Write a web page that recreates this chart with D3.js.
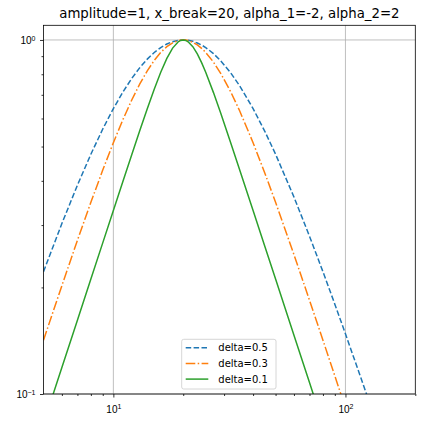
<!DOCTYPE html>
<html>
<head>
<meta charset="utf-8">
<script src="https://cdn.jsdelivr.net/npm/d3@7"></script>
<style>
  body { margin: 0; background: #fff; }
  svg { font-family: "DejaVu Sans", sans-serif; }
</style>
</head>
<body>
<svg id="chart" width="426" height="424"></svg>
<script>
// values
var xValues = [5, 6, 7, 8, 9, 10, 11, 12, 13, 14, 15, 16, 17, 18, 19, 19.5, 20, 20.5, 21, 22, 23, 24, 25, 27, 29, 32, 35, 40, 45, 50, 60, 70, 80, 90, 100, 120, 140];
var delta05 = [0.2215, 0.3030, 0.3889, 0.4756, 0.5602, 0.64, 0.7132, 0.7785, 0.8352, 0.8828, 0.9216, 0.9518, 0.9740, 0.9890, 0.9974, 0.9993, 1.0, 0.9994, 0.9976, 0.9910, 0.9807, 0.9675, 0.9518, 0.9151, 0.8737, 0.8080, 0.7422, 0.64, 0.5510, 0.4756, 0.36, 0.2791, 0.2215, 0.1794, 0.1479, 0.1052, 0.0784];
var delta03 = [0.1419, 0.2023, 0.2716, 0.3478, 0.4290, 0.5126, 0.5962, 0.6768, 0.7514, 0.8182, 0.8753, 0.9220, 0.9575, 0.9817, 0.9957, 0.9989, 1.0, 0.9990, 0.9960, 0.9851, 0.9683, 0.9469, 0.9221, 0.8660, 0.8050, 0.7148, 0.6310, 0.5126, 0.4197, 0.3478, 0.2475, 0.1841, 0.1419, 0.1125, 0.0914, 0.0636, 0.0470];
var delta01 = [0.0825, 0.1188, 0.1616, 0.2112, 0.2672, 0.3298, 0.3988, 0.4739, 0.5546, 0.6394, 0.7262, 0.8107, 0.8871, 0.9483, 0.9870, 0.9968, 1.0, 0.9970, 0.9883, 0.9571, 0.9134, 0.8631, 0.8107, 0.7100, 0.6215, 0.5135, 0.4302, 0.3298, 0.2606, 0.2112, 0.1466, 0.1077, 0.0825, 0.0652, 0.0528, 0.0367, 0.0269];
var seriesNames = ["delta=0.5", "delta=0.3", "delta=0.1"];
var seriesColors = ["#1f77b4", "#ff7f0e", "#2ca02c"];
var seriesDash = ["5.5,2.4", "9.6,2.4,1.5,2.4", null];
var xMajor = [10, 100];
var xMinor = [6, 7, 8, 9, 20, 30, 40, 50, 60, 70, 80, 90, 200];
var yMajor = [0.1, 1];
var yMinor = [0.2, 0.3, 0.4, 0.5, 0.6, 0.7, 0.8, 0.9];
var titleText = "amplitude=1, x_break=20, alpha_1=-2, alpha_2=2";

var plotLeft = 43.5, plotRight = 415.3, plotTop = 25.3, plotBottom = 394;
var svg = d3.select("#chart");

var x = d3.scaleLog().domain([5, 200]).range([plotLeft, plotRight]);
var y = d3.scaleLog().domain([0.1, 1.1]).range([plotBottom, plotTop]);

// grid
svg.append("g").selectAll("line").data(xMajor).enter().append("line")
    .attr("x1", d => x(d)).attr("x2", d => x(d))
    .attr("y1", plotTop).attr("y2", plotBottom)
    .attr("stroke", "#b0b0b0").attr("stroke-width", 0.8);
svg.append("g").selectAll("line").data(yMajor).enter().append("line")
    .attr("x1", plotLeft).attr("x2", plotRight)
    .attr("y1", d => y(d)).attr("y2", d => y(d))
    .attr("stroke", "#b0b0b0").attr("stroke-width", 0.8);

svg.append("clipPath").attr("id", "clip").append("rect")
    .attr("x", plotLeft).attr("y", plotTop).attr("width", plotRight - plotLeft).attr("height", plotBottom - plotTop);

var line = d3.line().x(d => x(d[0])).y(d => y(d[1]));
var allSeries = [delta05, delta03, delta01];
allSeries.forEach(function (vals, i) {
    svg.append("path")
        .datum(xValues.map((xv, j) => [xv, vals[j]]))
        .attr("clip-path", "url(#clip)")
        .attr("fill", "none")
        .attr("stroke", seriesColors[i])
        .attr("stroke-width", 1.5)
        .attr("stroke-dasharray", seriesDash[i])
        .attr("d", line);
});

// axes
function superLabel(sel, base, exp) {
    sel.text(null);
    sel.append("tspan").text(base);
    sel.append("tspan").attr("dy", "-0.45em").attr("font-size", "7px").text(exp);
}

var gx = svg.append("g").attr("transform", "translate(0," + plotBottom + ")");
gx.call(d3.axisBottom(x).tickValues(xMinor).tickSize(2).tickFormat(""));
gx.append("g").call(d3.axisBottom(x).tickValues(xMajor).tickSize(3.5).tickPadding(8));
gx.selectAll("path.domain").remove();
gx.selectAll(".tick text").attr("font-size", "10px").attr("fill", "#000")
    .filter(d => xMajor.indexOf(d) >= 0)
    .each(function (d) { superLabel(d3.select(this), "10", String(Math.round(Math.log10(d)))); });

var gy = svg.append("g").attr("transform", "translate(" + plotLeft + ",0)");
gy.call(d3.axisLeft(y).tickValues(yMinor).tickSize(2).tickFormat(""));
gy.append("g").call(d3.axisLeft(y).tickValues(yMajor).tickSize(3.5).tickPadding(4.5));
gy.selectAll("path.domain").remove();
gy.selectAll(".tick text").attr("font-size", "10px").attr("fill", "#000")
    .filter(d => yMajor.indexOf(d) >= 0)
    .each(function (d) { superLabel(d3.select(this), "10", d === 1 ? "0" : "\u22121"); });
svg.selectAll(".tick line").attr("stroke", "#000").attr("stroke-width", 0.8);

svg.append("rect")
    .attr("x", plotLeft).attr("y", plotTop).attr("width", plotRight - plotLeft).attr("height", plotBottom - plotTop)
    .attr("fill", "none").attr("stroke", "#000").attr("stroke-width", 0.8);

svg.append("text")
    .attr("x", (plotLeft + plotRight) / 2).attr("y", plotTop - 7)
    .attr("text-anchor", "middle").attr("font-size", "13.3px")
    .text(titleText);

// legend
var leg = svg.append("g").attr("transform", "translate(181.7,339.3)");
leg.append("rect").attr("width", 94.3).attr("height", 49.7).attr("rx", 2)
    .attr("fill", "#fff").attr("fill-opacity", 0.8).attr("stroke", "#cccccc").attr("stroke-width", 0.8);
seriesNames.forEach(function (name, i) {
    var yy = 8.4 + i * 15.7;
    leg.append("line").attr("x1", 4).attr("x2", 26.6).attr("y1", yy).attr("y2", yy)
        .attr("stroke", seriesColors[i]).attr("stroke-width", 1.5)
        .attr("stroke-dasharray", seriesDash[i]);
    leg.append("text").attr("x", 36.6).attr("y", yy + 3.6).attr("font-size", "10px").text(name);
});
</script>
</body>
</html>
